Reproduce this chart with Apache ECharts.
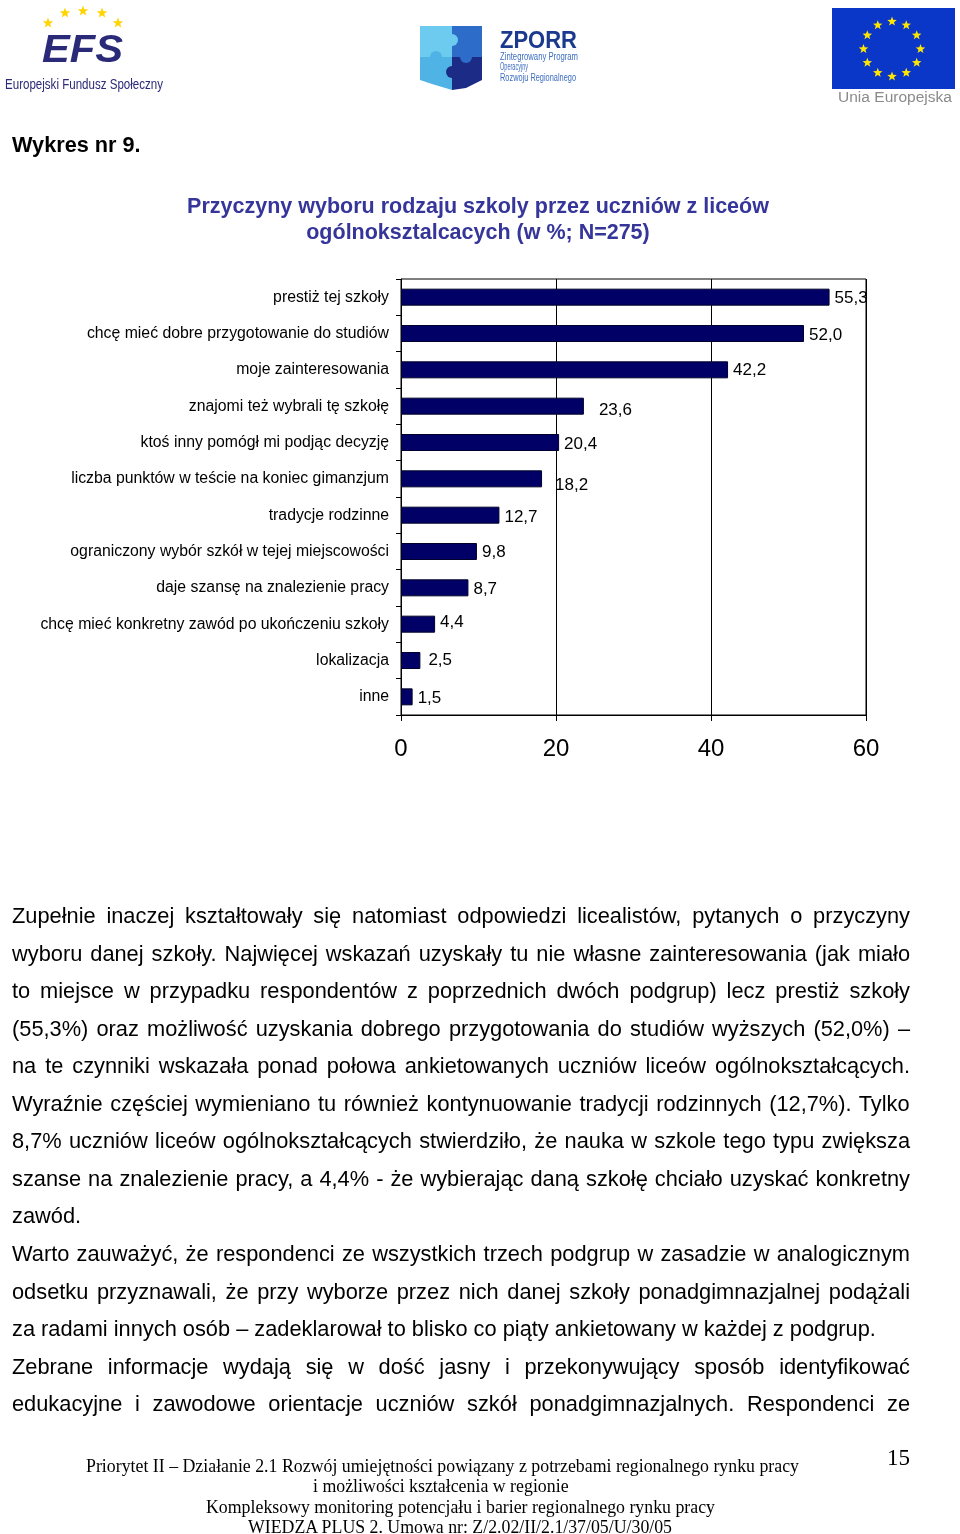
<!DOCTYPE html>
<html><head><meta charset="utf-8">
<script src="https://cdn.jsdelivr.net/npm/echarts@6/dist/echarts.min.js"></script>
<style>
html,body{margin:0;padding:0;background:#fff;}
#page{position:relative;width:960px;height:1534px;overflow:hidden;font-family:"Liberation Sans",Arial,sans-serif;background:#fff;}
#chart{position:absolute;left:0;top:0;width:960px;height:1534px;}
.abs{position:absolute;white-space:nowrap;}
.ln{position:absolute;left:12px;height:38px;line-height:38px;font-size:21.8px;white-space:nowrap;color:#000;}
.ft{position:absolute;white-space:nowrap;font-family:"Liberation Serif","Times New Roman",serif;font-size:18.5px;line-height:20px;color:#000;transform-origin:0 50%;}
</style>
</head><body>
<div id="page">
<div id="chart"></div>

<!-- logos -->
<svg class="abs" style="left:0;top:0" width="960" height="110" id="logos">
  <text x="42" y="62" font-family="Liberation Sans, Arial" font-weight="bold" font-style="italic" font-size="38" fill="#2b2a78" textLength="81" lengthAdjust="spacingAndGlyphs">EFS</text>
  <text x="5" y="89" font-family="Liberation Sans Narrow, Liberation Sans, Arial" font-size="14.5" fill="#2b2a78" textLength="158" lengthAdjust="spacingAndGlyphs">Europejski Fundusz Społeczny</text>
  <g id="puzzle">
    <rect x="420" y="26" width="32" height="31" fill="#6ccbee"/>
    <rect x="452" y="26" width="30" height="31" fill="#2d6cc8"/>
    <path d="M420 57 L452 57 L452 90 L432 84 L420 80 Z" fill="#4fb3e6"/>
    <path d="M452 57 L482 57 L482 80 L466 88 L452 90 Z" fill="#1c2b86"/>
    <circle cx="452" cy="40" r="6" fill="#6ccbee"/>
    <circle cx="466" cy="57" r="6" fill="#2d6cc8"/>
    <circle cx="436" cy="57" r="6" fill="#4fb3e6"/>
    <circle cx="452" cy="72" r="6" fill="#1c2b86"/>
  </g>
  <text x="500" y="48" font-family="Liberation Sans, Arial" font-weight="bold" font-size="23" fill="#1b3a8e" textLength="77" lengthAdjust="spacingAndGlyphs">ZPORR</text>
  <text x="500" y="60" font-family="Liberation Sans Narrow, Liberation Sans, Arial" font-size="10" fill="#3c6dc0" textLength="78" lengthAdjust="spacingAndGlyphs">Zintegrowany Program</text>
  <text x="500" y="70" font-family="Liberation Sans Narrow, Liberation Sans, Arial" font-size="10" fill="#3c6dc0" textLength="28" lengthAdjust="spacingAndGlyphs">Operacyjny</text>
  <text x="500" y="81" font-family="Liberation Sans Narrow, Liberation Sans, Arial" font-size="10" fill="#3c6dc0" textLength="76" lengthAdjust="spacingAndGlyphs">Rozwoju Regionalnego</text>
  <rect x="832" y="8" width="123" height="81" fill="#0a37c8"/>
  <g id="eustars"></g>
  <g id="efsstars"></g>
  <text x="838" y="102" font-family="Liberation Sans, Arial" font-size="14" fill="#8a8a8a" textLength="114" lengthAdjust="spacingAndGlyphs">Unia Europejska</text>
</svg>

<div class="abs" style="left:12px;top:132px;font-size:21.7px;font-weight:bold;line-height:26px;">Wykres nr 9.</div>
<div class="abs" style="left:0;width:956px;top:193px;text-align:center;font-size:21.5px;font-weight:bold;line-height:26px;color:#35359a;">Przyczyny wyboru rodzaju szkoly przez uczniów z liceów<br>ogólnoksztalcacych (w %; N=275)</div>

<div id="body"></div>
<div id="footer"></div>
<div class="abs" style="left:887px;top:1445px;font-family:'Liberation Serif','Times New Roman',serif;font-size:23px;line-height:26px;">15</div>
</div>

<script>
// ---- data ----
var categories = [
  'prestiż tej szkoły',
  'chcę mieć dobre przygotowanie do studiów',
  'moje zainteresowania',
  'znajomi też wybrali tę szkołę',
  'ktoś inny pomógł mi podjąc decyzję',
  'liczba punktów w teście na koniec gimanzjum',
  'tradycje rodzinne',
  'ograniczony wybór szkół w tejej miejscowości',
  'daje szansę na znalezienie pracy',
  'chcę mieć konkretny zawód po ukończeniu szkoły',
  'lokalizacja',
  'inne'
];
var values = [55.3, 52.0, 42.2, 23.6, 20.4, 18.2, 12.7, 9.8, 8.7, 4.4, 2.5, 1.5];
var xTicks = [0, 20, 40, 60];

// label nudges (style only)
var labelNudge = [[0,1],[0,2],[0,0],[10,4],[0,2],[8,6],[0,2],[0,1],[0,1],[0,-2],[3,0],[0,1]];

var bodyLines = [
  ['Zupełnie inaczej kształtowały się natomiast odpowiedzi licealistów, pytanych o przyczyny', true],
  ['wyboru danej szkoły. Najwięcej wskazań uzyskały tu nie własne zainteresowania (jak miało', true],
  ['to miejsce w przypadku respondentów z poprzednich dwóch podgrup) lecz prestiż szkoły', true],
  ['(55,3%) oraz możliwość uzyskania dobrego przygotowania do studiów wyższych (52,0%) –', true],
  ['na te czynniki wskazała ponad połowa ankietowanych uczniów liceów ogólnokształcących.', true],
  ['Wyraźnie częściej wymieniano tu również kontynuowanie tradycji rodzinnych (12,7%). Tylko', true],
  ['8,7% uczniów liceów ogólnokształcących stwierdziło, że nauka w szkole tego typu zwiększa', true],
  ['szanse na znalezienie pracy, a 4,4% - że wybierając daną szkołę chciało uzyskać konkretny', true],
  ['zawód.', false],
  ['Warto zauważyć, że respondenci ze wszystkich trzech podgrup w zasadzie w analogicznym', true],
  ['odsetku przyznawali, że przy wyborze przez nich danej szkoły ponadgimnazjalnej podążali', true],
  ['za radami innych osób – zadeklarował to blisko co piąty ankietowany w każdej z podgrup.', false],
  ['Zebrane informacje wydają się w dość jasny i przekonywujący sposób identyfikować', true],
  ['edukacyjne i zawodowe orientacje uczniów szkół ponadgimnazjalnych. Respondenci ze', true]
];
var footerLines = [
  ['Priorytet II – Działanie 2.1 Rozwój umiejętności powiązany z potrzebami regionalnego rynku pracy', 86, 713, 1466],
  ['i możliwości kształcenia  w regionie', 313, 260, 1486],
  ['Kompleksowy monitoring potencjału i barier regionalnego rynku pracy', 206, 509, 1507],
  ['WIEDZA PLUS 2. Umowa nr: Z/2.02/II/2.1/37/05/U/30/05', 248, 425, 1527]
];

// ---- body text ----
var cv = document.createElement('canvas').getContext('2d');
cv.font = '21.8px "Liberation Sans", Arial, sans-serif';
var bodyEl = document.getElementById('body');
bodyLines.forEach(function(l, i){
  var d = document.createElement('div');
  d.className = 'ln';
  d.style.top = (916 - 19 + i * 37.55) + 'px';
  d.textContent = l[0];
  var w = cv.measureText(l[0]).width;
  var sp = (l[0].match(/ /g) || []).length;
  if (l[1]) {
    d.style.wordSpacing = ((898 - w) / sp) + 'px';
  }
  bodyEl.appendChild(d);
});
// ---- footer ----
cv.font = '18.5px "Liberation Serif", "Times New Roman", serif';
var ftEl = document.getElementById('footer');
footerLines.forEach(function(l){
  var d = document.createElement('div');
  d.className = 'ft';
  d.textContent = l[0];
  d.style.left = l[1] + 'px';
  d.style.top = (l[3] - 10) + 'px';
  var w = cv.measureText(l[0]).width;
  d.style.transform = 'scaleX(' + (l[2] / w) + ')';
  ftEl.appendChild(d);
});

// ---- stars ----
function starPath(cx, cy, r) {
  var p = [];
  for (var k = 0; k < 10; k++) {
    var a = -Math.PI / 2 + k * Math.PI / 5;
    var rr = k % 2 === 0 ? r : r * 0.42;
    p.push((cx + rr * Math.cos(a)).toFixed(2) + ',' + (cy + rr * Math.sin(a)).toFixed(2));
  }
  return p.join(' ');
}
var NS = 'http://www.w3.org/2000/svg';
var eu = document.getElementById('eustars');
for (var k = 0; k < 12; k++) {
  var a = k * Math.PI / 6;
  var s = document.createElementNS(NS, 'polygon');
  s.setAttribute('points', starPath(892 + 28.5 * Math.sin(a), 49 - 27.5 * Math.cos(a), 5));
  s.setAttribute('fill', '#ffe600');
  eu.appendChild(s);
}
var efsStarPos = [[48,23],[65,13],[83,11],[102,13],[118,23]];
var ef = document.getElementById('efsstars');
efsStarPos.forEach(function(p){
  var s = document.createElementNS(NS, 'polygon');
  s.setAttribute('points', starPath(p[0], p[1], 5.5));
  s.setAttribute('fill', '#ffd400');
  ef.appendChild(s);
});

// ---- chart ----
var chart = echarts.init(document.getElementById('chart'), null, {renderer: 'canvas'});
var FONT = '"Liberation Sans", Arial, sans-serif';
chart.setOption({
  animation: false,
  backgroundColor: 'transparent',
  grid: {left: 401, top: 279, width: 465, height: 436, show: true, borderColor: '#000', borderWidth: 1, backgroundColor: 'transparent'},
  xAxis: {
    type: 'value', min: xTicks[0], max: xTicks[xTicks.length - 1], interval: 20,
    axisLine: {show: true, lineStyle: {color: '#000', width: 1}},
    axisTick: {show: true, length: 6, lineStyle: {color: '#000'}},
    splitLine: {show: true, lineStyle: {color: '#000', width: 1}},
    axisLabel: {fontSize: 24, color: '#000', fontFamily: FONT, margin: 22}
  },
  yAxis: {
    type: 'category', data: categories, inverse: true,
    axisLine: {show: true, lineStyle: {color: '#000', width: 1}},
    axisTick: {show: true, length: 5, lineStyle: {color: '#000'}},
    axisLabel: {fontSize: 15.8, color: '#000', fontFamily: FONT, margin: 12}
  },
  series: [{
    type: 'bar',
    barWidth: 17,
    data: values.map(function(v, i){
      return {value: v, label: {offset: labelNudge[i]}};
    }),
    itemStyle: {color: '#000066', borderColor: '#00002a', borderWidth: 1},
    label: {
      show: true, position: 'right', distance: 5,
      fontSize: 17, color: '#000', fontFamily: FONT,
      formatter: function(p){ return p.value.toFixed(1).replace('.', ','); }
    }
  }]
});
</script>
</body></html>
